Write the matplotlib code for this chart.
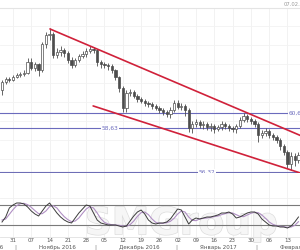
import matplotlib
matplotlib.use("Agg")
import matplotlib.pyplot as plt
import matplotlib.patheffects as pe
import numpy as np

# ---- data ----
opens = [60.63, 61.05, 61.20, 61.15, 61.31, 61.41, 61.47, 61.52, 62.10, 61.78,
         61.99, 61.68, 63.04, 63.51, 63.57, 62.46, 62.62, 62.73, 62.57, 62.20,
         61.94, 62.20, 62.41, 62.52, 62.67, 62.78, 62.73, 62.10, 61.99, 61.94,
         61.89, 61.68, 61.31, 60.73, 59.68, 60.47, 60.52, 60.31, 60.15, 60.05,
         59.94, 59.89, 59.79, 59.68, 59.57, 59.47, 59.37, 59.57, 59.94, 59.73,
         59.79, 59.57, 58.63, 58.84, 58.95, 58.79, 58.84, 58.68, 58.73, 58.58,
         58.68, 58.84, 58.73, 58.63, 58.58, 58.73, 59.05, 59.26, 59.10, 59.00,
         58.84, 58.26, 58.37, 58.47, 58.26, 58.16, 58.00, 57.69, 57.37, 56.74,
         57.16, 56.95]
closes = [61.05, 61.20, 61.15, 61.31, 61.41, 61.47, 61.52, 62.10, 61.78, 61.99,
          61.68, 63.04, 63.51, 63.57, 62.46, 62.62, 62.73, 62.57, 62.20, 61.94,
          62.20, 62.41, 62.52, 62.67, 62.78, 62.73, 62.10, 61.99, 61.94, 61.89,
          61.68, 61.31, 60.73, 59.68, 60.47, 60.52, 60.31, 60.15, 60.05, 59.94,
          59.89, 59.79, 59.68, 59.57, 59.47, 59.37, 59.57, 59.94, 59.73, 59.79,
          59.57, 58.63, 58.84, 58.95, 58.79, 58.84, 58.68, 58.73, 58.58, 58.68,
          58.84, 58.73, 58.63, 58.58, 58.73, 59.05, 59.26, 59.10, 59.00, 58.84,
          58.26, 58.37, 58.47, 58.26, 58.16, 58.00, 57.69, 57.37, 56.74, 57.16,
          56.95, 57.21]
highs = [61.15, 61.31, 61.31, 61.41, 61.52, 61.57, 61.68, 62.31, 62.31, 62.10,
         62.04, 63.15, 63.67, 63.88, 63.67, 62.83, 62.94, 62.83, 62.67, 62.36,
         62.31, 62.52, 62.67, 62.83, 62.94, 62.88, 62.78, 62.20, 62.10, 62.04,
         61.99, 61.73, 61.36, 60.84, 60.63, 60.68, 60.63, 60.42, 60.26, 60.15,
         60.05, 59.99, 59.89, 59.79, 59.68, 59.57, 59.73, 60.10, 60.10, 59.94,
         59.89, 59.68, 59.00, 59.10, 59.05, 59.00, 58.95, 58.89, 58.84, 58.79,
         59.00, 58.95, 58.84, 58.73, 58.84, 59.21, 59.42, 59.37, 59.21, 59.10,
         58.95, 58.52, 58.63, 58.58, 58.37, 58.26, 58.11, 57.79, 57.48, 57.37,
         57.32, 57.37]
lows = [60.36, 60.94, 61.05, 61.10, 61.26, 61.31, 61.36, 61.47, 61.68, 61.62,
        61.36, 61.57, 62.83, 63.25, 62.31, 62.31, 62.41, 62.36, 62.04, 61.78,
        61.83, 62.10, 62.31, 62.36, 62.57, 62.57, 61.89, 61.78, 61.78, 61.68,
        61.52, 61.15, 60.52, 59.47, 59.47, 60.31, 60.21, 59.99, 59.94, 59.79,
        59.73, 59.63, 59.57, 59.42, 59.31, 59.21, 59.16, 59.47, 59.63, 59.57,
        59.26, 58.42, 58.37, 58.68, 58.63, 58.58, 58.52, 58.47, 58.37, 58.47,
        58.52, 58.58, 58.47, 58.42, 58.37, 58.63, 58.95, 58.95, 58.84, 58.68,
        57.89, 58.11, 58.21, 58.11, 58.00, 57.84, 57.48, 57.21, 56.53, 56.43,
        56.63, 56.79]

stoch_k = [29, 44, 71, 80, 86, 86, 83, 74, 62, 53, 47, 62, 77, 86, 71, 56, 44, 35, 29, 26,
           41, 56, 68, 80, 77, 56, 35, 26, 23, 20, 20, 20, 17, 14, 17, 32, 47, 59, 65, 53,
           35, 26, 23, 26, 26, 29, 38, 53, 68, 65, 44, 23, 35, 41, 38, 41, 44, 44, 47, 50,
           56, 56, 59, 53, 41, 44, 50, 56, 59, 59, 53, 38, 29, 20, 17, 17, 14, 14, 11, 17,
           29, 44]
stoch_d = [35, 38, 52, 66, 78, 84, 85, 81, 73, 63, 54, 54, 62, 75, 78, 71, 57, 45, 36, 30,
           32, 41, 55, 68, 75, 71, 56, 39, 28, 23, 21, 20, 19, 17, 16, 21, 32, 46, 57, 59,
           51, 38, 28, 25, 25, 27, 31, 40, 53, 62, 59, 44, 34, 33, 38, 40, 41, 43, 45, 47,
           51, 54, 57, 56, 51, 46, 45, 50, 55, 58, 57, 50, 40, 29, 22, 18, 16, 15, 13, 14,
           19, 30]

level_values = [59.42, 58.63, 56.32]
level_labels = ["60,60", "58,63", "56,32"]
stoch_levels = [80, 20]

# trend lines (index, price)
upper_line = [(13.1, 63.83), (82.0, 58.20)]
lower_line = [(24.9, 59.79), (82.0, 56.24)]

day_labels = ["31", "07", "14", "21", "28", "05", "12", "19", "26", "02",
              "09", "16", "23", "30", "06", "13"]
day_tick_idx = [3, 8, 13, 18, 23, 28, 33, 38, 43, 48, 53, 58, 63, 68, 73, 78]
month_labels = ["Ноябрь 2016", "Декабрь 2016", "Январь 2017", "Февраль 2017"]
month_start_idx = [4, 26, 48, 70]

# ---- figure ----
fig = plt.figure(figsize=(3.0, 2.5), dpi=100)
fig.patch.set_facecolor("white")
ax = fig.add_axes([0.0, 0.308, 1.0, 0.66])
ax2 = fig.add_axes([0.0, 0.052, 1.0, 0.256], sharex=ax)

x = np.arange(len(opens))
o = np.array(opens); c = np.array(closes); h = np.array(highs); l = np.array(lows)
up = c >= o
dark = "#4d4d4d"

ax.vlines(x, l, h, color=dark, lw=0.6, zorder=3)
bottoms = np.minimum(o, c)
heights = np.maximum(np.abs(c - o), 0.03)
ax.bar(x[up], heights[up], bottom=bottoms[up], width=0.62, color="white",
       edgecolor=dark, linewidth=0.5, zorder=4)
ax.bar(x[~up], heights[~up], bottom=bottoms[~up], width=0.62, color=dark,
       edgecolor=dark, linewidth=0.5, zorder=4)

ax.set_xlim(-0.55, 81.42)
ax.set_ylim(56.27, 64.93)

# grid
for t in day_tick_idx:
    ax.axvline(t, color="#f0f0f0", lw=0.6, zorder=0)
    ax2.axvline(t, color="#f0f0f0", lw=0.6, zorder=0)
for yv in np.arange(57.0, 65.0, 1.0):
    ax.axhline(yv, color="#f3f3f3", lw=0.6, zorder=0)

# level lines
blue = "#6b6bbd"
label_x = [78.3, 29.5, 56.0]
label_ha = ["left", "center", "center"]
for v, lab, lx, ha in zip(level_values, level_labels, label_x, label_ha):
    ax.axhline(v, color=blue, lw=0.8, zorder=2)
    ax.text(lx, v, lab, color=blue, fontsize=4.2, ha=ha, va="center", zorder=6,
            bbox=dict(facecolor="white", edgecolor="none", pad=0.6))

# trend lines
red = "#d0213a"
for line in (upper_line, lower_line):
    ax.plot([line[0][0], line[1][0]], [line[0][1], line[1][1]], color=red, lw=1.2,
            zorder=5, solid_capstyle="round")

for sp in ["left", "right"]:
    ax.spines[sp].set_visible(False)
    ax2.spines[sp].set_visible(False)
ax.spines["top"].set_color("#e4e4e4")
ax.spines["top"].set_linewidth(0.8)
ax.spines["bottom"].set_color("#8a8a8a")
ax.spines["bottom"].set_linewidth(0.9)
ax2.spines["top"].set_visible(False)
ax2.spines["bottom"].set_color("#e0e0e0")
ax2.spines["bottom"].set_linewidth(0.6)
ax.tick_params(left=False, bottom=False, labelleft=False, labelbottom=False)
ax2.tick_params(left=False, bottom=False, labelleft=False, labelbottom=False)

# stochastic
ax2.set_ylim(-16, 176)
for lv in stoch_levels:
    ax2.axhline(lv, color="#7a7a7a", lw=0.8, zorder=2)
ax2.axhline(100, color="#f0f0f0", lw=0.6, zorder=0)
wm = ax2.text(49, -8, "SMGroup", fontsize=27, fontweight="bold", color="#f6f6f6",
              ha="center", va="baseline", zorder=1, clip_on=False)
wm.set_path_effects([pe.withStroke(linewidth=1.0, foreground="#dddddd")])
ax2.plot(x, stoch_d, color="#b08fc4", lw=0.8, zorder=3)
ax2.plot(x, stoch_k, color="#3c3c3c", lw=0.7, zorder=4)

# x labels
tr = ax2.get_xaxis_transform()
for t, lab in zip(day_tick_idx, day_labels):
    ax2.text(t, -0.05, lab, transform=tr, fontsize=4.0, color="#555555",
             ha="center", va="center", clip_on=False, zorder=6)
for s, lab in zip(month_start_idx, month_labels):
    ax2.text(s + 6, -0.165, lab, transform=tr, fontsize=4.0, color="#555555",
             ha="left", va="center", clip_on=False, zorder=6)
    ax2.text(s - 0.5, -0.165, "|", transform=tr, fontsize=4.0, color="#777777",
             ha="center", va="center", clip_on=False, zorder=6)
ax2.text(0.3, -0.165, "Октябрь 2016", transform=tr, fontsize=4.0, color="#555555",
         ha="right", va="center", clip_on=False, zorder=6)

fig.text(0.945, 0.982, "07.02.2017", fontsize=3.8, color="#9a9a9a", ha="left", va="center")

fig.savefig("out.png", dpi=100, facecolor="white")
